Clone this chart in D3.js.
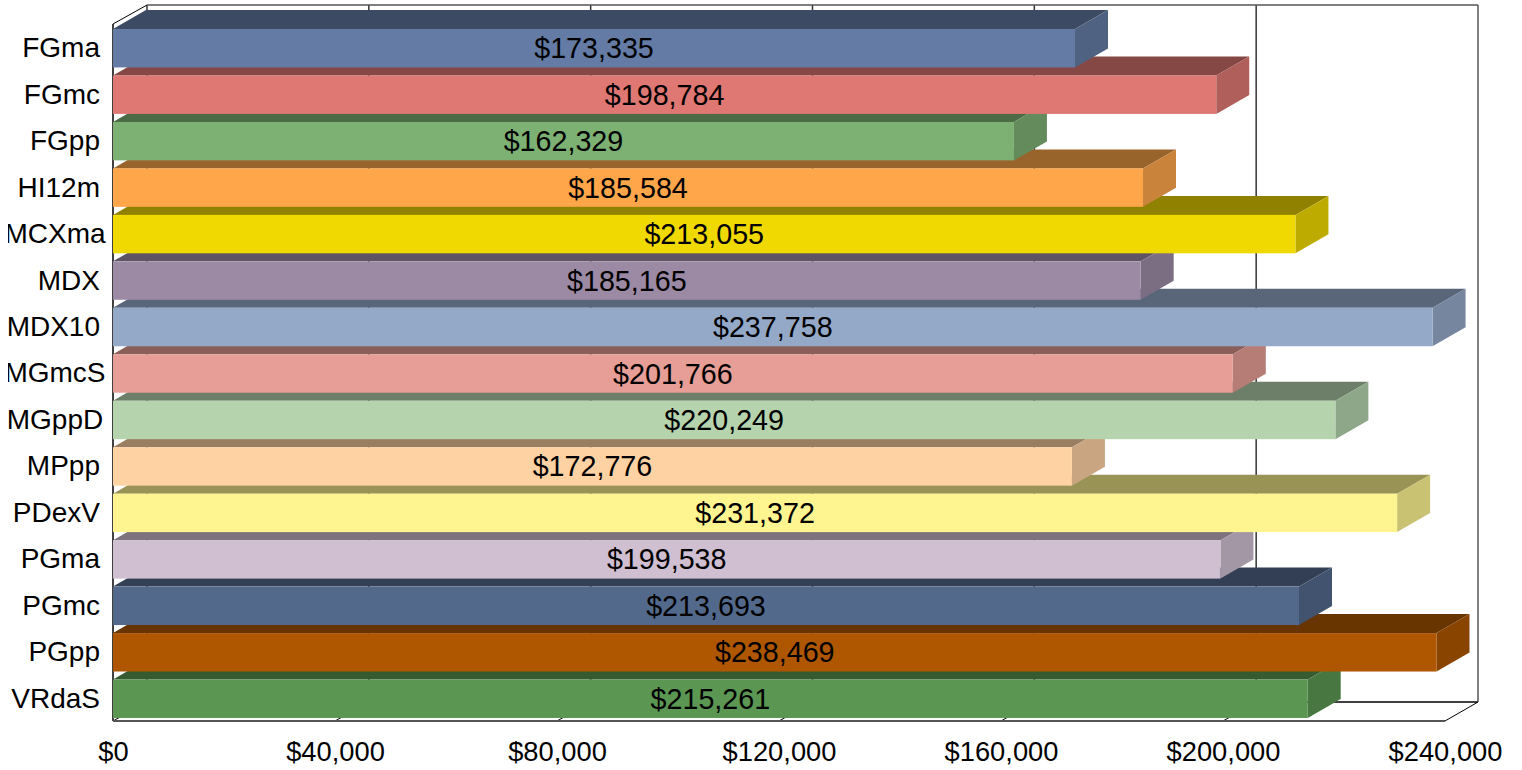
<!DOCTYPE html>
<html>
<head>
<meta charset="utf-8">
<script src="https://cdn.jsdelivr.net/npm/d3@7"></script>
<style>
html, body { margin: 0; background: #fff; }
svg { display: block; font-family: "Liberation Sans", Arial, sans-serif; }
</style>
</head>
<body>
<svg width="1522" height="770"></svg>
<script>
const categories = ["FGma", "FGmc", "FGpp", "HI12m", "MCXma", "MDX", "MDX10", "MGmcS", "MGppD", "MPpp", "PDexV", "PGma", "PGmc", "PGpp", "VRdaS"];
const values = [173335, 198784, 162329, 185584, 213055, 185165, 237758, 201766, 220249, 172776, 231372, 199538, 213693, 238469, 215261];
const colors = ["#647ca5", "#df7873", "#7db073", "#ffa64a", "#f0d900", "#9c8aa5", "#94a9c8", "#e69e96", "#b5d3ad", "#ffd2a3", "#fff590", "#cfbfd1", "#53698c", "#ae5700", "#5b9752"];
const xTicks = [0, 40000, 80000, 120000, 160000, 200000, 240000];

const svg = d3.select("svg");
const money = d3.format("$,");

const plotLeft = 113, plotRight = 1445, plotTop = 24, plotBottom = 721;
const depthX = 33, depthY = -19;

const x = d3.scaleLinear().domain([0, 240000]).range([plotLeft, plotRight]);
// the back wall sits a little wider at its left end
const xBack = d3.scaleLinear().domain([0, 240000]).range([plotLeft + depthX + 1, plotRight + depthX]);
const y = d3.scaleBand().domain(categories).range([plotTop + 1, plotBottom + 1]).paddingInner(0.173).paddingOuter(0.0865);

const shade = (c, k) => {
    const r = d3.rgb(c);
    return d3.rgb(r.r * k, r.g * k, r.b * k).formatHex();
};

const poly = d3.line();

// back wall, floor and side wall
const frame = svg.append("g").attr("fill", "none");
const wallLine = (pts, stroke, w) => frame.append("path").attr("d", poly(pts)).attr("stroke", stroke).attr("stroke-width", w);

xTicks.slice(0, -1).forEach(t => {
    wallLine([[xBack(t), plotTop + depthY], [xBack(t), plotBottom + depthY]], "#333", 1.5);
});
xTicks.forEach(t => {
    wallLine([[x(t), plotBottom], [xBack(t), plotBottom + depthY]], "#000", 1);
});
wallLine([[xBack(0), plotBottom + depthY], [xBack(240000), plotBottom + depthY]], "#000", 1.5);
wallLine([[xBack(0), plotTop + depthY], [xBack(240000), plotTop + depthY]], "#555", 1.5);
wallLine([[xBack(240000), plotTop + depthY], [xBack(240000), plotBottom + depthY]], "#555", 1.5);
wallLine([[plotLeft, plotTop], [xBack(0), plotTop + depthY]], "#000", 1);
wallLine([[plotLeft, plotTop], [plotLeft, plotBottom]], "#000", 1.5);
wallLine([[plotLeft, plotBottom], [plotRight, plotBottom]], "#555", 2);

// bars, bottom one first so the upper bars sit over the next top face
const rows = categories.map((c, i) => ({ name: c, value: values[i], color: colors[i] })).reverse();
const bars = svg.append("g").selectAll("g").data(rows).join("g");

bars.append("path")
    .attr("fill", d => shade(d.color, 0.6))
    .attr("d", d => poly([
        [x(0), y(d.name)],
        [x(0) + depthX, y(d.name) + depthY],
        [x(d.value) + depthX, y(d.name) + depthY],
        [x(d.value), y(d.name)]
    ]) + "Z");

bars.append("path")
    .attr("fill", d => shade(d.color, 0.79))
    .attr("d", d => poly([
        [x(d.value), y(d.name)],
        [x(d.value) + depthX, y(d.name) + depthY],
        [x(d.value) + depthX, y(d.name) + depthY + y.bandwidth()],
        [x(d.value), y(d.name) + y.bandwidth()]
    ]) + "Z");

bars.append("rect")
    .attr("x", x(0))
    .attr("y", d => y(d.name))
    .attr("width", d => x(d.value) - x(0))
    .attr("height", y.bandwidth())
    .attr("fill", d => d.color);

bars.append("text")
    .attr("x", d => (x(0) + x(d.value)) / 2)
    .attr("y", d => y(d.name) + y.bandwidth() / 2)
    .attr("dy", "0.35em")
    .attr("text-anchor", "middle")
    .attr("font-size", 28.7)
    .attr("fill", "#000")
    .text(d => money(d.value));

// axes
const xAxis = svg.append("g")
    .attr("transform", `translate(0,${plotBottom})`)
    .call(d3.axisBottom(x).tickValues(xTicks).tickFormat(money).tickSize(0).tickPadding(21));
xAxis.select(".domain").remove();
xAxis.selectAll("text").attr("font-size", 27.3).attr("font-family", "inherit").attr("fill", "#000");

svg.append("clipPath").attr("id", "labelClip")
    .append("rect").attr("x", 8).attr("y", 0).attr("width", 105).attr("height", 770);

const yAxis = svg.append("g")
    .attr("clip-path", "url(#labelClip)")
    .call(d3.axisLeft(y).tickSize(0).tickPadding(0));
yAxis.select(".domain").remove();
yAxis.selectAll("text")
    .attr("font-size", 28)
    .attr("font-family", "inherit")
    .attr("fill", "#000")
    .each(function () {
        // long labels do not fit the margin and get centred in it, then clipped
        const t = d3.select(this);
        if (this.getComputedTextLength() > 95) t.attr("x", 55).attr("text-anchor", "middle");
        else t.attr("x", 100).attr("text-anchor", "end");
    });
</script>
</body>
</html>
